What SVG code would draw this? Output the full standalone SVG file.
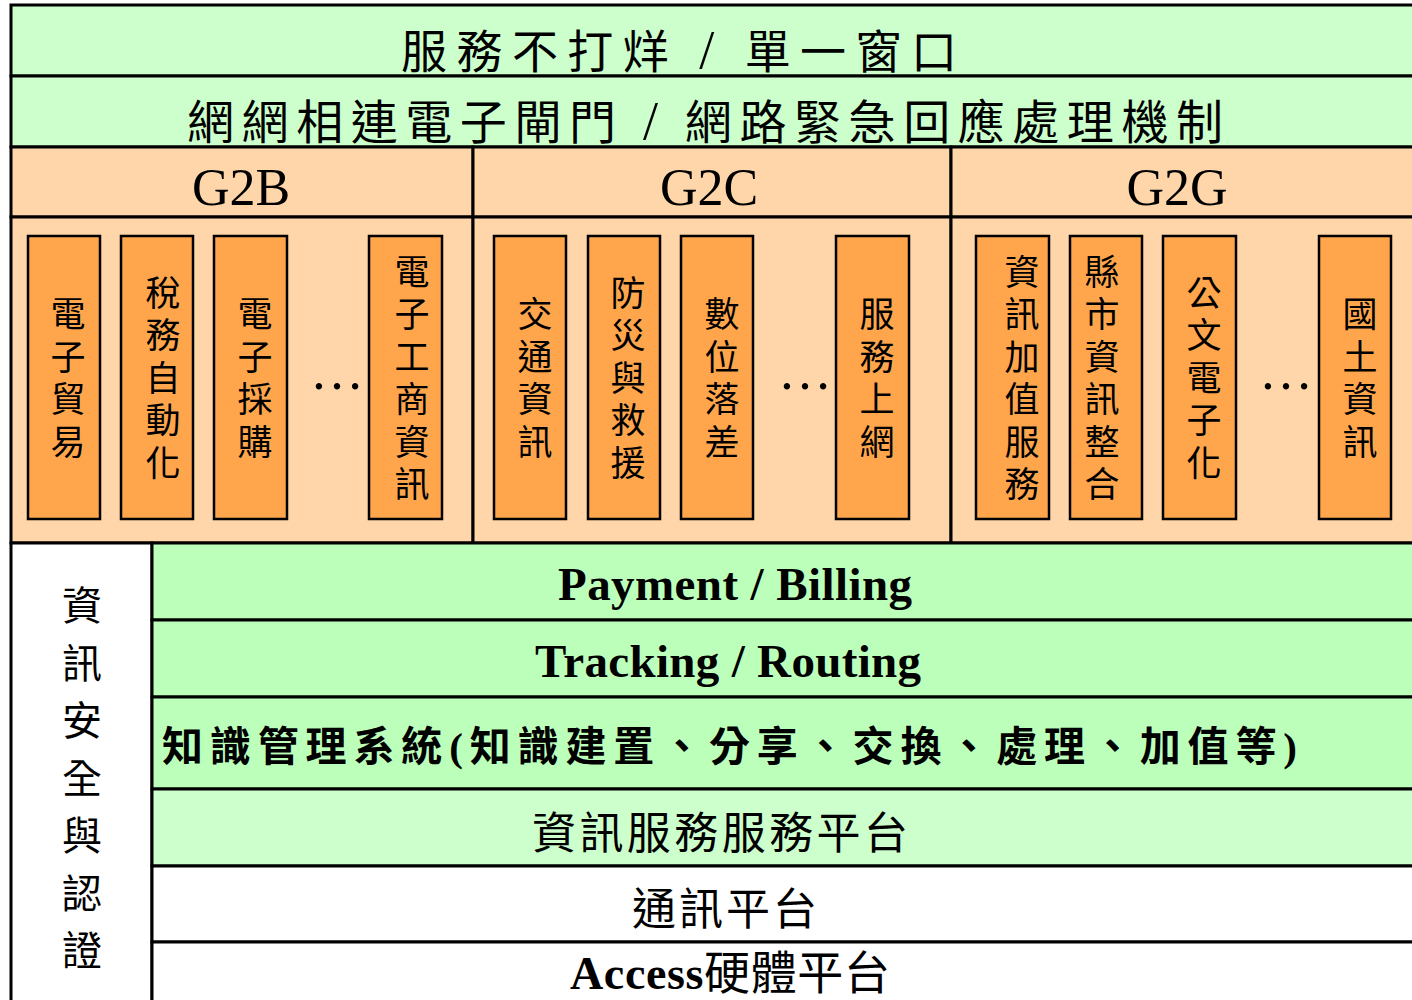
<svg xmlns="http://www.w3.org/2000/svg" width="1412" height="1000" viewBox="0 0 1412 1000">
<style>
text{font-family:"Liberation Serif","Noto Sans CJK TC",serif;fill:#000}
.g1{fill:#CCFFCC;stroke:#000;stroke-width:3}
.g2{fill:#BBFFBB;stroke:#000;stroke-width:3}
.pe{fill:#FFD6A9;stroke:#000;stroke-width:3}
.wh{fill:#FFFFFF;stroke:#000;stroke-width:3}
.ob{fill:#FFA64D;stroke:#000;stroke-width:2.5}
.v{font-size:35px;text-anchor:middle}
.hd{font-size:52px;text-anchor:middle}
.dots{font-size:54px;text-anchor:middle}
.b{font-weight:bold}
.sl{font-size:54px}
</style>
<rect x="0" y="0" width="1412" height="1000" fill="#FFFFFF"/>

<g id="row-service">
<rect class="g1" x="11" y="5" width="1410" height="71"/>
<text x="401" y="68" font-size="46" textLength="556" lengthAdjust="spacing">服務不打烊 <tspan class="sl">/</tspan> 單一窗口</text>
</g>
<g id="row-gateway">
<rect class="g1" x="11" y="76" width="1410" height="71"/>
<text x="187" y="139" font-size="47" textLength="1036" lengthAdjust="spacing">網網相連電子閘門 <tspan class="sl">/</tspan> 網路緊急回應處理機制</text>
</g>

<g id="g2b">
<rect class="pe" x="11" y="147" width="462" height="70"/>
<rect class="pe" x="11" y="217" width="462" height="326"/>
<text class="hd" x="241" y="205">G2B</text>
</g>
<g id="g2c">
<rect class="pe" x="473" y="147" width="478" height="70"/>
<rect class="pe" x="473" y="217" width="478" height="326"/>
<text class="hd" x="709" y="205">G2C</text>
</g>
<g id="g2g">
<rect class="pe" x="951" y="147" width="470" height="70"/>
<rect class="pe" x="951" y="217" width="470" height="326"/>
<text class="hd" x="1177" y="205">G2G</text>
</g>

<g id="b-etrade"><rect class="ob" x="28" y="236" width="72" height="283"/>
<text class="v"><tspan x="68" y="327">電</tspan><tspan x="68" y="370">子</tspan><tspan x="68" y="412">貿</tspan><tspan x="68" y="455">易</tspan></text></g>
<g id="b-tax"><rect class="ob" x="121" y="236" width="72" height="283"/>
<text class="v"><tspan x="163" y="306">稅</tspan><tspan x="163" y="348">務</tspan><tspan x="163" y="391">自</tspan><tspan x="163" y="433">動</tspan><tspan x="163" y="476">化</tspan></text></g>
<g id="b-eproc"><rect class="ob" x="214" y="236" width="73" height="283"/>
<text class="v"><tspan x="255" y="327">電</tspan><tspan x="255" y="370">子</tspan><tspan x="255" y="412">採</tspan><tspan x="255" y="455">購</tspan></text></g>
<text class="dots" x="337" y="389">…</text>
<g id="b-ebiz"><rect class="ob" x="369" y="236" width="73" height="283"/>
<text class="v"><tspan x="412" y="285">電</tspan><tspan x="412" y="327">子</tspan><tspan x="412" y="370">工</tspan><tspan x="412" y="412">商</tspan><tspan x="412" y="455">資</tspan><tspan x="412" y="497">訊</tspan></text></g>

<g id="c-traffic"><rect class="ob" x="494" y="236" width="72" height="283"/>
<text class="v"><tspan x="535" y="327">交</tspan><tspan x="535" y="370">通</tspan><tspan x="535" y="412">資</tspan><tspan x="535" y="455">訊</tspan></text></g>
<g id="c-disaster"><rect class="ob" x="588" y="236" width="72" height="283"/>
<text class="v"><tspan x="628" y="306">防</tspan><tspan x="628" y="348">災</tspan><tspan x="628" y="391">與</tspan><tspan x="628" y="433">救</tspan><tspan x="628" y="476">援</tspan></text></g>
<g id="c-divide"><rect class="ob" x="681" y="236" width="72" height="283"/>
<text class="v"><tspan x="722" y="327">數</tspan><tspan x="722" y="370">位</tspan><tspan x="722" y="412">落</tspan><tspan x="722" y="455">差</tspan></text></g>
<text class="dots" x="805" y="389">…</text>
<g id="c-online"><rect class="ob" x="836" y="236" width="73" height="283"/>
<text class="v"><tspan x="877" y="327">服</tspan><tspan x="877" y="370">務</tspan><tspan x="877" y="412">上</tspan><tspan x="877" y="455">網</tspan></text></g>

<g id="g-value"><rect class="ob" x="976" y="236" width="73" height="283"/>
<text class="v"><tspan x="1022" y="285">資</tspan><tspan x="1022" y="327">訊</tspan><tspan x="1022" y="370">加</tspan><tspan x="1022" y="412">值</tspan><tspan x="1022" y="455">服</tspan><tspan x="1022" y="497">務</tspan></text></g>
<g id="g-county"><rect class="ob" x="1070" y="236" width="72" height="283"/>
<text class="v"><tspan x="1102" y="285">縣</tspan><tspan x="1102" y="327">市</tspan><tspan x="1102" y="370">資</tspan><tspan x="1102" y="412">訊</tspan><tspan x="1102" y="455">整</tspan><tspan x="1102" y="497">合</tspan></text></g>
<g id="g-doc"><rect class="ob" x="1163" y="236" width="73" height="283"/>
<text class="v"><tspan x="1204" y="306">公</tspan><tspan x="1204" y="348">文</tspan><tspan x="1204" y="391">電</tspan><tspan x="1204" y="433">子</tspan><tspan x="1204" y="476">化</tspan></text></g>
<text class="dots" x="1286" y="389">…</text>
<g id="g-land"><rect class="ob" x="1319" y="236" width="72" height="283"/>
<text class="v"><tspan x="1360" y="327">國</tspan><tspan x="1360" y="370">土</tspan><tspan x="1360" y="412">資</tspan><tspan x="1360" y="455">訊</tspan></text></g>

<g id="security">
<rect class="wh" x="11" y="543" width="141" height="470"/>
<text font-size="40" text-anchor="middle"><tspan x="82" y="620">資</tspan><tspan x="82" y="678">訊</tspan><tspan x="82" y="735">安</tspan><tspan x="82" y="793">全</tspan><tspan x="82" y="850">與</tspan><tspan x="82" y="908">認</tspan><tspan x="82" y="965">證</tspan></text>
</g>

<g id="payment">
<rect class="g2" x="152" y="543" width="1270" height="77"/>
<text class="b" x="558" y="600" font-size="47" textLength="354" lengthAdjust="spacing">Payment / Billing</text>
</g>
<g id="tracking">
<rect class="g2" x="152" y="620" width="1270" height="77"/>
<text class="b" x="535" y="677" font-size="47" textLength="386" lengthAdjust="spacing">Tracking / Routing</text>
</g>
<g id="km">
<rect class="g2" x="152" y="697" width="1270" height="92"/>
<text class="b" x="162" y="761" font-size="41" textLength="1135" lengthAdjust="spacing">知識管理系統(知識建置、分享、交換、處理、加值等)</text>
</g>
<g id="infoservice">
<rect class="g1" x="152" y="789" width="1270" height="77"/>
<text x="532" y="849" font-size="44" textLength="376" lengthAdjust="spacing">資訊服務服務平台</text>
</g>
<g id="comm">
<rect class="wh" x="152" y="866" width="1270" height="76"/>
<text x="632" y="925" font-size="44" textLength="185" lengthAdjust="spacing">通訊平台</text>
</g>
<g id="access">
<rect class="wh" x="152" y="942" width="1270" height="70"/>
<text x="570" y="989" font-size="46" textLength="320" lengthAdjust="spacing"><tspan class="b">Access</tspan><tspan>硬體平台</tspan></text>
</g>
<g id="connectors"></g>
</svg>
